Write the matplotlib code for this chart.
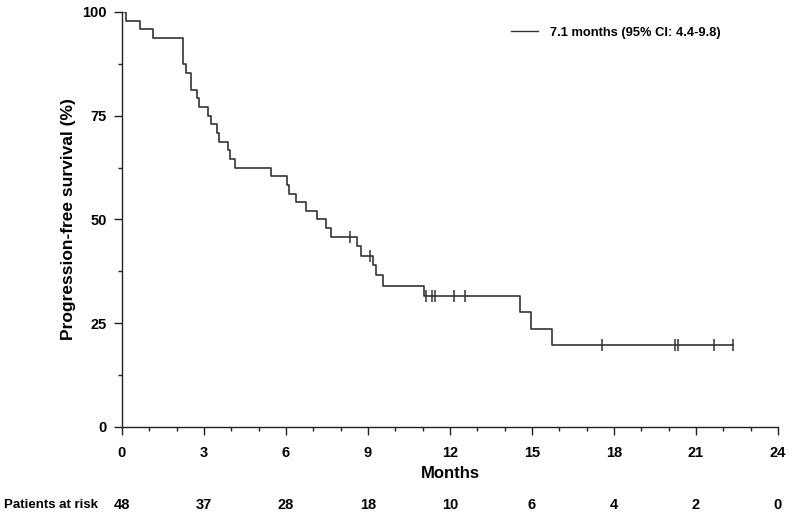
import numpy as np
import matplotlib
matplotlib.use("Agg")
import matplotlib.pyplot as plt
import matplotlib.transforms as mtransforms
from matplotlib.ticker import MultipleLocator

# ---- data ----
event_times = [0, 0.16, 0.65, 1.14, 2.23, 2.33, 2.54, 2.75, 2.82, 3.15, 3.25, 3.46,
               3.55, 3.86, 3.94, 4.14, 5.45, 6.05, 6.12, 6.36, 6.75, 7.14, 7.46,
               7.64, 8.58, 8.76, 9.19, 9.31, 9.55, 11.04, 14.56, 14.95, 15.75]
survival = [100, 97.9, 95.8, 93.8, 87.5, 85.4, 81.25, 79.2, 77.1, 75.0, 72.9, 70.8,
            68.75, 66.7, 64.6, 62.5, 60.4, 58.3, 56.25, 54.2, 52.1, 50.0, 47.9,
            45.8, 43.6, 41.25, 39.0, 36.6, 34.0, 31.6, 27.6, 23.7, 19.7]
censor_times = [8.33, 9.07, 11.14, 11.35, 11.44, 12.15, 12.54, 17.55, 20.24, 20.33,
                21.66, 22.34]
last_followup = 22.34

risk_times = [0, 3, 6, 9, 12, 15, 18, 21, 24]
at_risk = [48, 37, 28, 18, 10, 6, 4, 2, 0]
xticks = [0, 3, 6, 9, 12, 15, 18, 21, 24]
yticks = [0, 25, 50, 75, 100]
legend_label = "7.1 months (95% CI: 4.4-9.8)"

# ---- figure ----
fig = plt.figure(figsize=(7.9, 5.22), dpi=100)
ax = fig.add_axes([122 / 790, 1 - 427 / 522, (778 - 122) / 790, (427 - 12) / 522])

line_color = "#333333"
t = list(event_times) + [last_followup]
s = list(survival) + [survival[-1]]
ax.step(t, s, where="post", color=line_color, lw=1.2, label=legend_label)

et = np.array(event_times)
sv = np.array(survival)
cy = [sv[np.searchsorted(et, c, side="right") - 1] for c in censor_times]
ax.plot(censor_times, cy, ls="none", marker="|", ms=8, mew=1.1, color=line_color)

ax.set_xlim(0, 24)
ax.set_ylim(0, 100)
for sp in ("top", "right"):
    ax.spines[sp].set_visible(False)
for sp in ("left", "bottom"):
    ax.spines[sp].set_color("#222222")
    ax.spines[sp].set_linewidth(1.0)

ax.set_xticks(xticks)
ax.set_yticks(yticks)
ax.xaxis.set_minor_locator(MultipleLocator(1))
ax.yaxis.set_minor_locator(MultipleLocator(12.5))

tick_font = dict(family=["Liberation Sans Narrow", "Liberation Sans", "DejaVu Sans"],
                 weight="bold", size=10.5)
ax.set_xticklabels([str(v) for v in xticks], fontdict=tick_font)
ax.set_yticklabels([str(v) for v in yticks], fontdict=tick_font)
ax.tick_params(axis="both", which="major", length=6, width=1.0, color="#222222",
               direction="out")
ax.tick_params(axis="both", which="minor", length=3, width=1.0, color="#222222",
               direction="out")
ax.tick_params(axis="x", which="major", pad=8)
ax.tick_params(axis="y", which="major", pad=5)

bold_font = dict(family=["Liberation Sans", "DejaVu Sans"], weight="bold")

ax.set_ylabel("Progression-free survival (%)", fontsize=12.5, **bold_font)
ax.yaxis.set_label_coords(-0.07, 0.5)
fig.text(450 / 790, 1 - 474 / 522, "Months", ha="center", va="center",
         fontsize=12, **bold_font)

# risk table
trans = mtransforms.blended_transform_factory(ax.transData, fig.transFigure)
ry = 1 - 505 / 522
for x, n in zip(risk_times, at_risk):
    ax.text(x, ry, str(n), transform=trans, ha="center", va="center",
            clip_on=False, **tick_font)
fig.text(4 / 790, ry, "Patients at risk", ha="left", va="center", fontsize=9.5,
         **bold_font)

leg = ax.legend(loc="center left", bbox_to_anchor=(511 / 790, 1 - 33 / 522),
                bbox_transform=fig.transFigure, frameon=False, borderpad=0,
                borderaxespad=0, handlelength=2.1, handletextpad=0.9,
                prop=dict(family=["Liberation Sans", "DejaVu Sans"], weight="bold",
                          size=9.3))
for h in leg.get_lines():
    h.set_linewidth(1.0)

fig.savefig("out.png", dpi=100)
